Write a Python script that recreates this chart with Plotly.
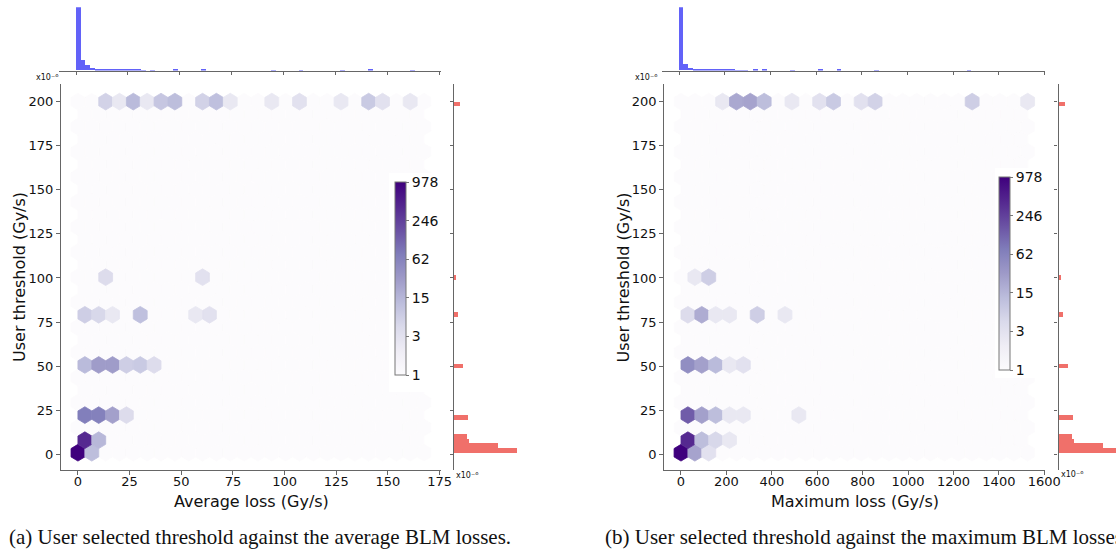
import numpy as np
import plotly.graph_objects as go
from plotly.colors import sequential

W, H = 1116, 552

# ---------------- data ----------------
NX, NY = 25, 14                     # hexbin gridsize
Y_MIN, Y_MAX = 0.9, 200.0           # user threshold extent (x1e-6 Gy/s)
AVG_X_MIN, AVG_X_MAX = 0.0, 167.5   # average loss extent
MAX_X_MIN, MAX_X_MAX = 0.0, 1526.5  # maximum loss extent
VMAX = 978

# (a) average loss vs user threshold: non-empty hex cells (centre x, centre y, count)
avg_hex_x = [0.0, 6.7, 3.35, 10.05, 3.35, 10.05, 16.75, 23.45,
             3.35, 10.05, 16.75, 23.45, 30.15, 36.85,
             3.35, 10.05, 16.75, 30.15, 56.95, 63.65, 13.4, 60.3,
             13.4, 20.1, 26.8, 33.5, 40.2, 46.9, 60.3, 67.0, 73.7, 93.8, 107.2, 127.3, 140.7, 147.4, 160.8]
avg_hex_y = [0.9, 0.9, 8.01, 8.01, 22.23, 22.23, 22.23, 22.23,
             50.67, 50.67, 50.67, 50.67, 50.67, 50.67,
             79.12, 79.12, 79.12, 79.12, 79.12, 79.12, 100.45, 100.45,
             200.0, 200.0, 200.0, 200.0, 200.0, 200.0, 200.0, 200.0, 200.0, 200.0, 200.0, 200.0, 200.0, 200.0, 200.0]
avg_hex_count = [978, 13, 400, 15, 70, 65, 27, 5,
                 14, 30, 30, 8, 9, 5,
                 8, 6, 3, 12, 3, 4, 5, 4,
                 7, 3, 14, 3, 10, 13, 7, 12, 3, 3, 4, 3, 9, 4, 3]

# (b) maximum loss vs user threshold
max_hex_x = [0.0, 61.06, 122.12, 30.53, 91.59, 152.65, 213.71,
             30.53, 91.59, 152.65, 213.71, 274.77, 518.99,
             30.53, 91.59, 152.65, 213.71, 274.77,
             30.53, 91.59, 152.65, 213.71, 335.83, 457.93, 61.06, 122.12,
             183.18, 244.24, 305.3, 366.36, 488.48, 610.6, 671.66, 793.78, 854.84, 1282.26, 1526.5]
max_hex_y = [0.9, 0.9, 0.9, 8.01, 8.01, 8.01, 8.01,
             22.23, 22.23, 22.23, 22.23, 22.23, 22.23,
             50.67, 50.67, 50.67, 50.67, 50.67,
             79.12, 79.12, 79.12, 79.12, 79.12, 79.12, 100.45, 100.45,
             200.0, 200.0, 200.0, 200.0, 200.0, 200.0, 200.0, 200.0, 200.0, 200.0, 200.0]
max_hex_count = [978, 25, 4, 400, 13, 6, 3,
                 140, 27, 13, 3, 3, 3,
                 45, 27, 14, 3, 4,
                 5, 20, 3, 3, 8, 3, 3, 8,
                 3, 22, 25, 13, 3, 4, 9, 4, 7, 8, 3]

# marginal histograms (75 bins each): non-empty bin indices and counts
N_BINS = 75
avg_hist_bins = [0, 1, 2, 3, 4, 5, 6, 7, 8, 9, 10, 11, 12, 13, 14, 16, 21, 27, 42, 48, 57, 63, 72]
avg_hist_counts = [1150, 187, 96, 42, 20, 12, 9, 8, 7, 5, 5, 4, 4, 5, 3, 3, 6, 6, 3, 3, 3, 5, 3]
max_hist_bins = [0, 1, 2, 3, 4, 5, 6, 7, 8, 9, 10, 11, 12, 13, 14, 16, 18, 24, 30, 34, 42, 62]
max_hist_counts = [1150, 122, 44, 31, 18, 15, 14, 6, 5, 5, 4, 4, 3, 3, 3, 4, 4, 3, 4, 5, 3, 3]
thr_hist_bins = [0, 1, 2, 3, 7, 18, 29, 37, 74]
thr_hist_counts = [660, 458, 157, 133, 144, 91, 39, 21, 68]

x_ticks_avg = [0, 25, 50, 75, 100, 125, 150, 175]
x_ticks_max = [0, 200, 400, 600, 800, 1000, 1200, 1400, 1600]
y_ticks = [0, 25, 50, 75, 100, 125, 150, 175, 200]
cbar_ticktext = ["1", "3", "15", "62", "246", "978"]

# ---------------- helpers ----------------
FONT = "DejaVu Sans"
AXC = "#666666"
BLUE = "rgb(98,98,248)"
RED = "rgb(240,112,106)"

PURPLES = []
for c in sequential.Purples:
    r, g, b = [float(v) for v in c[c.index("(") + 1:c.index(")")].split(",")]
    PURPLES.append((r, g, b))


def purple(t):
    t = min(max(t, 0.0), 1.0)
    pos = t * (len(PURPLES) - 1)
    i = min(int(pos), len(PURPLES) - 2)
    f = pos - i
    a, b = PURPLES[i], PURPLES[i + 1]
    return "rgb(%d,%d,%d)" % tuple(round(a[k] + (b[k] - a[k]) * f) for k in range(3))


HEX = [(.5, -.5), (.5, .5), (0., 1.), (-.5, .5), (-.5, -.5), (0., -1.), (.5, -.5)]


def hex_xy(cx, cy, sx, sy):
    return [cx + ox * sx for ox, oy in HEX], [cy + oy * sy / 3 for ox, oy in HEX]


def px_x(p):
    return p / W


def px_y(p):
    return 1 - p / H


fig = go.Figure()


def add_panel(xs, ys, cs, xmin, xmax, hist_bins, hist_counts, ax):
    sx = (xmax - xmin) / NX
    sy = (Y_MAX - Y_MIN) / NY
    xa, ya = "x%s" % ax[0], "y%s" % ax[0]
    bx, by = [], []
    for j in range(NY + 1):
        for i in range(NX + 1):
            hx, hy = hex_xy(xmin + i * sx, Y_MIN + j * sy, sx, sy)
            bx += hx + [None]
            by += hy + [None]
    for j in range(NY):
        for i in range(NX):
            hx, hy = hex_xy(xmin + (i + .5) * sx, Y_MIN + (j + .5) * sy, sx, sy)
            bx += hx + [None]
            by += hy + [None]
    c0 = purple(0)
    fig.add_trace(go.Scatter(x=bx, y=by, fill="toself", fillcolor=c0, mode="lines",
                             line=dict(color=c0, width=0.8), hoverinfo="skip",
                             showlegend=False, xaxis=xa, yaxis=ya))
    lv = np.log10(VMAX)
    for cx, cy, c in zip(xs, ys, cs):
        col = purple(np.log10(c) / lv)
        hx, hy = hex_xy(cx, cy, sx, sy)
        fig.add_trace(go.Scatter(x=hx, y=hy, fill="toself", fillcolor=col, mode="lines",
                                 line=dict(color=col, width=0.8), hoverinfo="skip",
                                 showlegend=False, xaxis=xa, yaxis=ya))
    bw = (xmax - xmin) / N_BINS
    fig.add_trace(go.Bar(x=[xmin + (b + .5) * bw for b in hist_bins], y=hist_counts, width=bw,
                         marker=dict(color=BLUE, line=dict(width=0)), showlegend=False,
                         hoverinfo="skip", xaxis="x%s" % ax[1], yaxis="y%s" % ax[1]))
    bwy = (Y_MAX - Y_MIN) / N_BINS
    fig.add_trace(go.Bar(y=[Y_MIN + (b + .5) * bwy for b in thr_hist_bins], x=thr_hist_counts,
                         width=bwy, orientation="h",
                         marker=dict(color=RED, line=dict(width=0)), showlegend=False,
                         hoverinfo="skip", xaxis="x%s" % ax[2], yaxis="y%s" % ax[2]))


add_panel(avg_hex_x, avg_hex_y, avg_hex_count, AVG_X_MIN, AVG_X_MAX,
          avg_hist_bins, avg_hist_counts, ("", "2", "3"))
add_panel(max_hex_x, max_hex_y, max_hex_count, MAX_X_MIN, MAX_X_MAX,
          max_hist_bins, max_hist_counts, ("4", "5", "6"))

lv = float(np.log10(VMAX))
for ca, xa, ya in (("coloraxis", "x", "y"), ("coloraxis2", "x4", "y4")):
    fig.add_trace(go.Scatter(x=[-1000], y=[-1000], mode="markers",
                             marker=dict(color=[0], coloraxis=ca, size=1, opacity=0),
                             showlegend=False, hoverinfo="skip", xaxis=xa, yaxis=ya))


def cax(x0, ytop):
    return dict(colorscale="Purples", cmin=0, cmax=lv,
                colorbar=dict(x=px_x(x0), xanchor="left", y=px_y(ytop), yanchor="top",
                              len=193, lenmode="pixels", thickness=11, thicknessmode="pixels",
                              xpad=0, ypad=0, outlinewidth=1, outlinecolor="#777777",
                              tickvals=[k / 5 * lv for k in range(6)], ticktext=cbar_ticktext,
                              ticks="outside", ticklen=3, tickcolor="#777777",
                              tickfont=dict(family=FONT, size=14, color="#111111")))


tickfont = dict(family=FONT, size=13, color="#111111")
base_axis = dict(showgrid=False, zeroline=False, showline=True, linecolor=AXC, linewidth=1.2,
                 ticks="outside", ticklen=4, tickwidth=1, tickcolor=AXC, tickfont=tickfont,
                 automargin=False)

main_y_dom = [px_y(470), px_y(84)]
top_y_dom = [px_y(70.5), px_y(7.3)]
yr = [-8.9, 210]


def axes(xl, xr, xrange, xticks, rx0, rx1, rmax):
    return [
        dict(base_axis, domain=[px_x(xl), px_x(xr)], range=xrange, tickvals=xticks,
             ticklabelstandoff=-5),
        dict(base_axis, domain=main_y_dom, range=yr, tickvals=y_ticks),
        dict(base_axis, domain=[px_x(xl - 2), px_x(xr)], range=xrange, tickvals=xticks,
             showticklabels=False, ticklen=3),
        dict(domain=top_y_dom, range=[0, 1150], visible=False, automargin=False),
        dict(domain=[px_x(rx0), px_x(rx1)], range=[0, rmax], visible=False, automargin=False),
        dict(base_axis, domain=main_y_dom, range=yr, tickvals=y_ticks,
             showticklabels=False, ticklen=3),
    ]


A = axes(61, 441, [-8.2, 175.7], x_ticks_avg, 454, 517, 660)
B = axes(664.3, 1045, [-73.5, 1603], x_ticks_max, 1058.5, 1116, 660 * 57.5 / 63)

layout = dict(width=W, height=H, autosize=False,
              margin=dict(l=0, r=0, t=0, b=0, pad=0, autoexpand=False),
              paper_bgcolor="white", plot_bgcolor="rgba(0,0,0,0)",
              font=dict(family=FONT, color="#111111"),
              coloraxis=cax(395, 182), coloraxis2=cax(999.3, 177), bargap=0)
for names, axs in ((["", "2", "3"], A), (["4", "5", "6"], B)):
    for k, n in enumerate(names):
        layout["xaxis" + n] = dict(axs[2 * k], anchor="y" + n)
        layout["yaxis" + n] = dict(axs[2 * k + 1], anchor="x" + n)
fig.update_layout(**layout)

for x0, x1, y0, y1 in ((389, 441, 173, 392), (995, 1045, 168, 378)):
    fig.add_shape(type="rect", xref="paper", yref="paper", x0=px_x(x0), x1=px_x(x1),
                  y0=px_y(y1), y1=px_y(y0), fillcolor="white", line=dict(width=0), layer="above")

ann = []


def text(s, x, y, size, xanchor="center", angle=0, family=FONT):
    ann.append(dict(text=s, x=px_x(x), y=px_y(y), xref="paper", yref="paper", showarrow=False,
                    xanchor=xanchor, yanchor="middle", textangle=angle,
                    font=dict(family=family, size=size, color="#111111")))


text("Average loss (Gy/s)", 251, 501, 16)
text("Maximum loss (Gy/s)", 854.5, 501, 16)
text("User threshold (Gy/s)", 19, 277, 16, angle=-90)
text("User threshold (Gy/s)", 622.5, 277, 16, angle=-90)
for x, y in ((47, 77), (467, 475), (646, 77), (1072, 474)):
    text("x10⁻⁶", x, y, 8)
text("(a) User selected threshold against the average BLM losses.", 7, 537, 21,
     xanchor="left", family="Liberation Serif")
text("(b) User selected threshold against the maximum BLM losses.", 603, 537, 21,
     xanchor="left", family="Liberation Serif")
fig.update_layout(annotations=ann)

fig.write_html(
    "out.html",
    config={"responsive": False, "displayModeBar": False},
    post_script="document.body.style.margin='0';",
)
